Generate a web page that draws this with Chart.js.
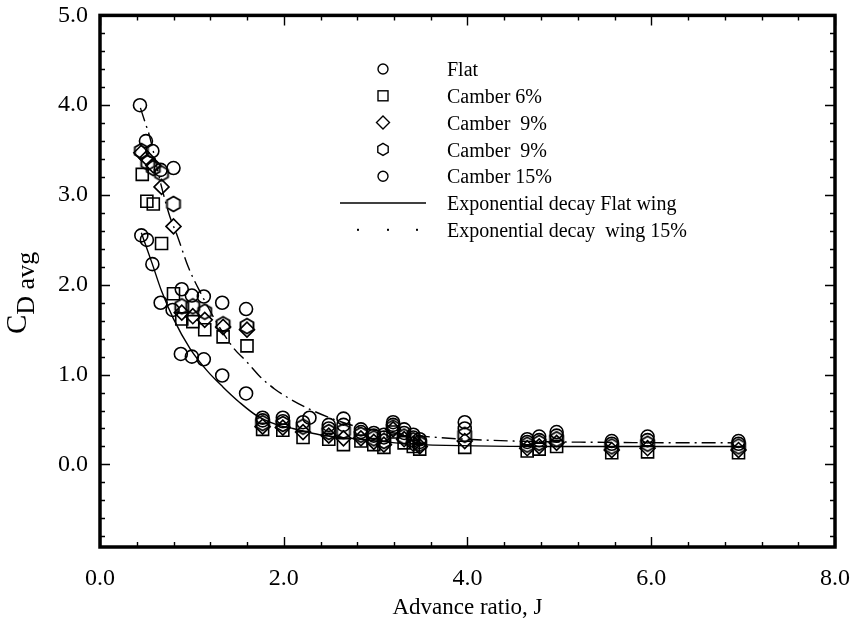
<!DOCTYPE html>
<html>
<head>
<meta charset="utf-8">
<script src="https://cdn.jsdelivr.net/npm/chart.js@4.4.0/dist/chart.umd.min.js"></script>
<style>
    body { margin: 0; background: #fff; }
</style>
</head>
<body>
<canvas id="CdChart" width="859" height="624"></canvas>
<script>
// axis ticks
var xTicks = [0, 2, 4, 6, 8];
var yTicks = [0, 1, 2, 3, 4, 5];

// advance ratios of the low-drag cluster (J > 1.7)
var lowJ = [1.77, 1.99, 2.21, 2.49, 2.65, 2.84, 2.98, 3.09, 3.19, 3.31, 3.41, 3.48, 3.97, 4.65, 4.78, 4.97, 5.57, 5.96, 6.95];
var lowJ15 = [1.77, 1.99, 2.28, 2.49, 2.65, 2.84, 2.98, 3.09, 3.19, 3.31, 3.41, 3.48, 3.97, 4.65, 4.78, 4.97, 5.57, 5.96, 6.95];

// Flat
var flatJ = [0.45, 0.51, 0.57, 0.66, 0.79, 0.88, 1.0, 1.13, 1.33, 1.59].concat(lowJ);
var flatCd = [2.55, 2.5, 2.23, 1.8, 1.72, 1.23, 1.2, 1.17, 0.99, 0.79,
    0.49, 0.48, 0.47, 0.40, 0.44, 0.36, 0.32, 0.30, 0.44, 0.35, 0.30, 0.25, 0.40, 0.25, 0.27, 0.32, 0.23, 0.27, 0.23];

// Camber 6%
var c6J = [0.46, 0.51, 0.58, 0.67, 0.8, 0.89, 1.01, 1.14, 1.34, 1.6].concat(lowJ);
var c6Cd = [3.23, 2.93, 2.9, 2.46, 1.9, 1.62, 1.59, 1.5, 1.42, 1.32,
    0.39, 0.38, 0.30, 0.28, 0.22, 0.26, 0.22, 0.19, 0.36, 0.24, 0.20, 0.17, 0.19, 0.15, 0.17, 0.20, 0.13, 0.14, 0.13];

// Camber 9% (diamond)
var c9aJ = [0.45, 0.51, 0.58, 0.67, 0.8, 0.89, 1.01, 1.14, 1.34, 1.6].concat(lowJ);
var c9aCd = [3.47, 3.41, 3.33, 3.09, 2.65, 1.69, 1.65, 1.61, 1.53, 1.5,
    0.42, 0.41, 0.36, 0.32, 0.29, 0.29, 0.25, 0.22, 0.39, 0.28, 0.23, 0.20, 0.26, 0.18, 0.20, 0.24, 0.16, 0.18, 0.16];

// Camber 9% (hexagon)
var c9bJ = [0.45, 0.52, 0.58, 0.67, 0.8, 0.89, 1.01, 1.14, 1.34, 1.6].concat(lowJ);
var c9bCd = [3.49, 3.36, 3.3, 3.24, 2.9, 1.76, 1.76, 1.7, 1.56, 1.54,
    0.46, 0.45, 0.42, 0.36, 0.37, 0.33, 0.29, 0.26, 0.41, 0.31, 0.27, 0.23, 0.33, 0.22, 0.24, 0.28, 0.20, 0.23, 0.20];

// Camber 15%
var c15J = [0.435, 0.5, 0.57, 0.66, 0.8, 0.89, 1.0, 1.13, 1.33, 1.59].concat(lowJ15);
var c15Cd = [4.0, 3.6, 3.49, 3.28, 3.3, 1.95, 1.88, 1.87, 1.8, 1.73,
    0.52, 0.52, 0.52, 0.44, 0.51, 0.39, 0.35, 0.33, 0.47, 0.39, 0.33, 0.28, 0.47, 0.28, 0.31, 0.36, 0.26, 0.31, 0.26];

// fitted curves
var fitFlatJ = [0.45, 0.57, 0.67, 0.8, 0.98, 1.16, 1.34, 1.52, 1.71, 1.93, 2.1, 2.39, 2.83, 3.5, 4.9, 7.0];
var fitFlatCd = [2.58, 2.23, 1.93, 1.62, 1.29, 1.05, 0.86, 0.69, 0.54, 0.44, 0.4, 0.33, 0.28, 0.22, 0.2, 0.2];
var fit15J = [0.44, 0.5, 0.53, 0.6, 0.67, 0.76, 0.84, 0.96, 1.1, 1.27, 1.45, 1.6, 1.74, 1.9, 2.05, 2.25, 2.5, 2.8, 3.2, 3.67, 4.5, 5.5, 6.9];
var fit15Cd = [3.97, 3.78, 3.69, 3.4, 3.09, 2.76, 2.55, 2.2, 1.9, 1.58, 1.3, 1.14, 0.98, 0.84, 0.74, 0.63, 0.52, 0.42, 0.35, 0.3, 0.26, 0.245, 0.24];

var serif = "'Liberation Serif', 'Times New Roman', serif";

function toPoints(xs, ys) {
    return xs.map((x, i) => ({ x: x, y: ys[i] }));
}

function hexPath(ctx, cx, cy, r) {
    ctx.beginPath();
    for (let k = 0; k < 6; k++) {
        let a = -Math.PI / 2 + k * Math.PI / 3;
        let px = cx + r * Math.cos(a);
        let py = cy + r * Math.sin(a);
        if (k === 0) ctx.moveTo(px, py); else ctx.lineTo(px, py);
    }
    ctx.closePath();
}

// Chart.js has no hexagon, so make one as an image
var hexImg = document.createElement('canvas');
hexImg.width = 20;
hexImg.height = 20;
(function () {
    let hctx = hexImg.getContext('2d');
    hctx.strokeStyle = '#000';
    hctx.lineWidth = 1.9;
    hexPath(hctx, 10, 10, 7.5);
    hctx.stroke();
})();

function drawMarker(ctx, kind, x, y) {
    ctx.save();
    ctx.strokeStyle = '#000';
    ctx.lineWidth = 1.4;
    if (kind === 'circle') {
        ctx.beginPath();
        ctx.arc(x, y, 5, 0, Math.PI * 2);
        ctx.stroke();
    } else if (kind === 'rect') {
        ctx.strokeRect(x - 5, y - 5, 10, 10);
    } else if (kind === 'rectRot') {
        ctx.beginPath();
        ctx.moveTo(x, y - 6.5);
        ctx.lineTo(x + 6.5, y);
        ctx.lineTo(x, y + 6.5);
        ctx.lineTo(x - 6.5, y);
        ctx.closePath();
        ctx.stroke();
    } else if (kind === 'hex') {
        hexPath(ctx, x, y, 6);
        ctx.stroke();
    } else if (kind === 'solid') {
        ctx.beginPath();
        ctx.moveTo(x - 43, y);
        ctx.lineTo(x + 43, y);
        ctx.stroke();
    } else if (kind === 'dots') {
        ctx.fillStyle = '#000';
        [-25, 5, 34].forEach((dx) => {
            ctx.fillRect(x + dx - 1, y - 1, 2, 2);
        });
    }
    ctx.restore();
}

var legendRows = [
    { kind: 'circle', text: 'Flat' },
    { kind: 'rect', text: 'Camber 6%' },
    { kind: 'rectRot', text: 'Camber  9%' },
    { kind: 'hex', text: 'Camber  9%' },
    { kind: 'circle', text: 'Camber 15%' },
    { kind: 'solid', text: 'Exponential decay Flat wing' },
    { kind: 'dots', text: 'Exponential decay  wing 15%' }
];

var framePlugin = {
    id: 'frame',
    afterDraw(chart) {
        const ctx = chart.ctx;
        const a = chart.chartArea;
        const xs = chart.scales.x;
        const ys = chart.scales.y;

        ctx.save();
        ctx.strokeStyle = '#000';
        ctx.lineWidth = 1.4;
        ctx.beginPath();
        // x ticks, bottom and top, pointing inwards
        for (let v = 0; v <= 8.001; v += 0.4) {
            let px = Math.round(xs.getPixelForValue(v)) + 0.5;
            let major = xTicks.some((t) => Math.abs(t - v) < 1e-6);
            let len = major ? 10 : 5;
            ctx.moveTo(px, a.bottom); ctx.lineTo(px, a.bottom - len);
            ctx.moveTo(px, a.top); ctx.lineTo(px, a.top + len);
        }
        // y ticks, left and right
        for (let v = -0.8; v <= 5.001; v += 0.2) {
            let py = Math.round(ys.getPixelForValue(v)) + 0.5;
            let major = yTicks.some((t) => Math.abs(t - v) < 1e-6);
            let len = major ? 10 : 5;
            ctx.moveTo(a.left, py); ctx.lineTo(a.left + len, py);
            ctx.moveTo(a.right, py); ctx.lineTo(a.right - len, py);
        }
        ctx.stroke();

        ctx.lineWidth = 3.5;
        ctx.strokeRect(a.left, a.top, a.right - a.left, a.bottom - a.top);

        // y title with subscript, reads bottom to top
        ctx.fillStyle = '#000';
        ctx.translate(26, 334);
        ctx.rotate(-Math.PI / 2);
        ctx.textBaseline = 'alphabetic';
        ctx.font = '29px ' + serif;
        let wC = ctx.measureText('C').width;
        ctx.fillText('C', 0, 0);
        ctx.font = '26px ' + serif;
        ctx.fillText('D avg', wC, 8);
        ctx.restore();

        // legend inside the plot
        ctx.save();
        ctx.fillStyle = '#000';
        ctx.font = '20px ' + serif;
        ctx.textBaseline = 'middle';
        legendRows.forEach((row, i) => {
            let y = 69 + i * 26.8;
            drawMarker(ctx, row.kind, 383, y);
            ctx.fillText(row.text, 447, y + 2);
        });
        ctx.restore();
    }
};

function markerSet(label, pts, style, radius) {
    return {
        label: label,
        data: pts,
        pointStyle: style,
        pointRadius: radius,
        pointBorderWidth: 1.6,
        pointBorderColor: '#000',
        pointBackgroundColor: 'rgba(0,0,0,0)',
        showLine: false
    };
}

var ChartView;

window.addEventListener('load', () => {
    const ctx = document.getElementById('CdChart');

    ChartView = new Chart(ctx, {
        type: 'scatter',
        data: {
            datasets: [
                markerSet('Flat', toPoints(flatJ, flatCd), 'circle', 6.5),
                markerSet('Camber 6%', toPoints(c6J, c6Cd), 'rect', 8.5),
                markerSet('Camber  9%', toPoints(c9aJ, c9aCd), 'rectRot', 7.5),
                markerSet('Camber  9%', toPoints(c9bJ, c9bCd), hexImg, 8),
                markerSet('Camber 15%', toPoints(c15J, c15Cd), 'circle', 6.5),
                {
                    label: 'Exponential decay Flat wing',
                    data: toPoints(fitFlatJ, fitFlatCd),
                    showLine: true,
                    pointRadius: 0,
                    borderColor: '#000',
                    borderWidth: 1.4,
                    cubicInterpolationMode: 'monotone'
                },
                {
                    label: 'Exponential decay  wing 15%',
                    data: toPoints(fit15J, fit15Cd),
                    showLine: true,
                    pointRadius: 0,
                    borderColor: '#000',
                    borderWidth: 1.4,
                    borderDash: [14, 5, 2, 5],
                    cubicInterpolationMode: 'monotone'
                }
            ]
        },
        options: {
            responsive: false,
            animation: false,
            devicePixelRatio: 1,
            layout: { padding: { left: 0, right: 24, top: 0, bottom: 0 } },
            plugins: {
                legend: { display: false },
                tooltip: { enabled: false }
            },
            scales: {
                x: {
                    type: 'linear',
                    min: 0,
                    max: 8,
                    grid: { display: false },
                    border: { display: false },
                    afterBuildTicks: (scale) => { scale.ticks = xTicks.map((v) => ({ value: v })); },
                    afterFit: (scale) => { scale.height = 77; },
                    ticks: {
                        color: '#000',
                        font: { family: serif, size: 24 },
                        padding: 9,
                        maxRotation: 0,
                        callback: (v) => v.toFixed(1)
                    },
                    title: {
                        display: true,
                        text: 'Advance ratio, J',
                        color: '#000',
                        font: { family: serif, size: 23 },
                        padding: { top: 0, bottom: 2 }
                    }
                },
                y: {
                    type: 'linear',
                    min: -0.92,
                    max: 5,
                    grid: { display: false },
                    border: { display: false },
                    afterBuildTicks: (scale) => { scale.ticks = yTicks.map((v) => ({ value: v })); },
                    afterFit: (scale) => { scale.width = 100; },
                    ticks: {
                        color: '#000',
                        font: { family: serif, size: 24, lineHeight: 0.95 },
                        padding: 4,
                        callback: (v) => v.toFixed(1)
                    }
                }
            }
        },
        plugins: [framePlugin]
    });
});
</script>
</body>
</html>
